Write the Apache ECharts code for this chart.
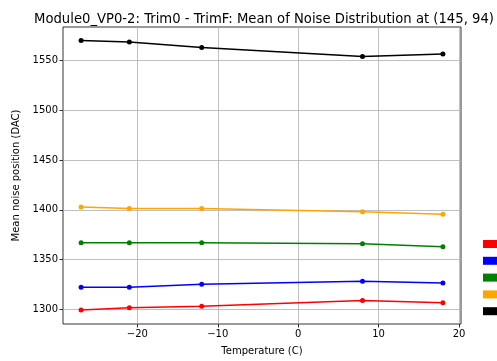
<!DOCTYPE html>
<html>
<head>
<meta charset="utf-8">
<script src="https://cdn.jsdelivr.net/npm/echarts@6/dist/echarts.min.js"></script>
<style>
  html, body { margin: 0; padding: 0; background: #fff; }
  #chart { width: 497px; height: 361px; }
</style>
</head>
<body>
<div id="chart"></div>
<script>
const temps = [-27, -21, -12, 8, 18];
const redVals = [1299.4, 1301.7, 1303.3, 1309, 1306.7];
const blueVals = [1322.3, 1322.3, 1325.3, 1328.3, 1326.7];
const greenVals = [1367, 1367, 1367, 1366, 1363];
const orangeVals = [1403, 1401.3, 1401.3, 1398, 1395.7];
const blackVals = [1570, 1568.5, 1563, 1554, 1556.5];
const xTicks = [-20, -10, 0, 10, 20];
const yTicks = [1300, 1350, 1400, 1450, 1500, 1550];

const font = 'DejaVu Sans';
const chart = echarts.init(document.getElementById('chart'));

function mkSeries(name, vals, color) {
  return {
    name: name,
    type: 'line',
    data: temps.map((t, i) => [t, vals[i]]),
    symbol: 'circle',
    symbolSize: 5,
    lineStyle: { color: color, width: 1.5 },
    itemStyle: { color: color },
    emphasis: { disabled: true },
  };
}

const fmt = v => (v < 0 ? '\u2212' + Math.abs(v) : String(v));

chart.setOption({
  animation: false,
  textStyle: { fontFamily: font },
  title: {
    text: 'Module0_VP0-2: Trim0 - TrimF: Mean of Noise Distribution at (145, 94)',
    left: 259,
    textAlign: 'center',
    top: 8,
    textStyle: { fontFamily: font, fontSize: 13.2, fontWeight: 'normal', color: '#000' },
  },
  grid: {
    left: 63, right: 36, top: 27, bottom: 37,
    show: true, borderColor: '#000', borderWidth: 0.8,
  },
  legend: {
    orient: 'vertical',
    left: 483,
    top: 240,
    padding: 0,
    itemWidth: 20,
    itemHeight: 8,
    itemGap: 8.8,
    icon: 'rect',
    formatter: () => '',
    textStyle: { fontSize: 8, lineHeight: 8 },
  },
  xAxis: {
    type: 'value',
    min: -29.25,
    max: 20.25,
    name: 'Temperature (C)',
    nameLocation: 'middle',
    nameGap: 22,
    nameTextStyle: { fontFamily: font, fontSize: 10, color: '#000' },
    axisLine: { show: false, onZero: false },
    axisTick: { show: true, customValues: xTicks, length: 3.5, lineStyle: { color: '#000', width: 0.8 } },
    axisLabel: { customValues: xTicks, formatter: fmt, fontFamily: font, fontSize: 10, color: '#000', margin: 5 },
    splitLine: { show: true, lineStyle: { color: '#b0b0b0', width: 0.8 } },
  },
  yAxis: {
    type: 'value',
    min: 1285.45,
    max: 1583.55,
    name: 'Mean noise position (DAC)',
    nameLocation: 'middle',
    nameGap: 40,
    nameTextStyle: { fontFamily: font, fontSize: 10, color: '#000' },
    axisLine: { show: false, onZero: false },
    axisTick: { show: true, customValues: yTicks, length: 3.5, lineStyle: { color: '#000', width: 0.8 } },
    axisLabel: { customValues: yTicks, formatter: fmt, fontFamily: font, fontSize: 10, color: '#000', margin: 5 },
    splitLine: { show: true, lineStyle: { color: '#b0b0b0', width: 0.8 } },
  },
  series: [
    mkSeries('red', redVals, '#ff0000'),
    mkSeries('blue', blueVals, '#0000ff'),
    mkSeries('green', greenVals, '#008000'),
    mkSeries('orange', orangeVals, '#ffa500'),
    mkSeries('black', blackVals, '#000000'),
  ],
});
</script>
</body>
</html>
